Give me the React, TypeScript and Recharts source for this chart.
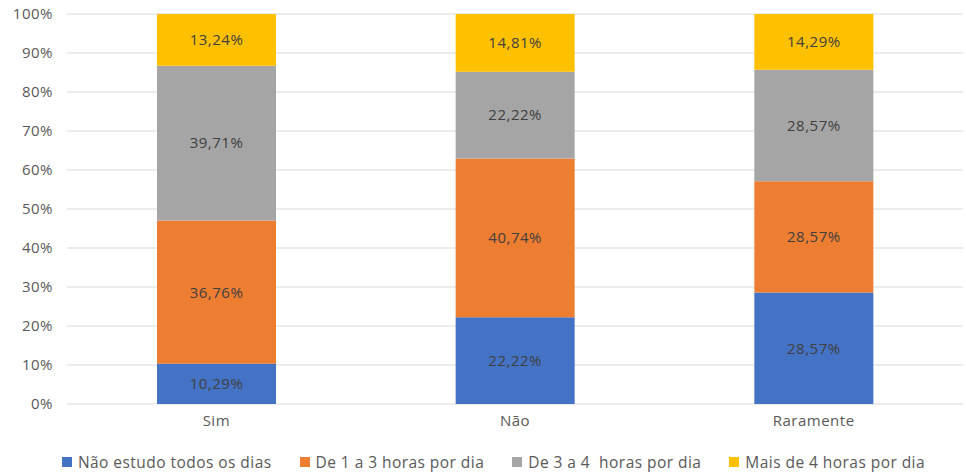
import { BarChart, Bar, XAxis, YAxis, CartesianGrid, Legend, LabelList } from 'recharts'

const categorias = ['Sim', 'Não', 'Raramente']
const naoEstudo = [10.29, 22.22, 28.57]
const de1a3 = [36.76, 40.74, 28.57]
const de3a4 = [39.71, 22.22, 28.57]
const mais4 = [13.24, 14.81, 14.29]
const ticksY = [0, 10, 20, 30, 40, 50, 60, 70, 80, 90, 100]

const series = [
  { key: 'naoEstudo', nome: 'Não estudo todos os dias', cor: '#4472C4' },
  { key: 'de1a3', nome: 'De 1 a 3 horas por dia', cor: '#ED7D31' },
  { key: 'de3a4', nome: 'De 3 a 4  horas por dia', cor: '#A5A5A5' },
  { key: 'mais4', nome: 'Mais de 4 horas por dia', cor: '#FFC000' },
]

const dados = categorias.map((cat, i) => ({
  cat,
  naoEstudo: naoEstudo[i],
  de1a3: de1a3[i],
  de3a4: de3a4[i],
  mais4: mais4[i],
}))

const fonte = '"Open Sans", sans-serif'
const texto = { fontSize: 15, fontFamily: fonte, letterSpacing: 0.5 }
const fmt = (v: any) => `${Number(v).toFixed(2).replace('.', ',')}%`

// legenda na ordem das séries (o Legend padrão ordena por nome)
function Legenda() {
  return (
    <div style={{ display: 'flex', justifyContent: 'center', gap: 28, paddingLeft: 24, fontSize: 15.5, letterSpacing: 0.45, color: '#595959', whiteSpace: 'pre' }}>
      {series.map((s) => (
        <div key={s.key} style={{ display: 'flex', alignItems: 'center' }}>
          <span style={{ width: 10, height: 10, background: s.cor, marginRight: 6, display: 'inline-block' }} />
          <span>{s.nome}</span>
        </div>
      ))}
    </div>
  )
}

export default function App() {
  return (
    <div style={{ position: 'absolute', left: 0, top: 0, background: '#fff', fontFamily: fonte }}>
      <BarChart
        width={966}
        height={476}
        data={dados}
        margin={{ top: 14, right: 3, left: 0, bottom: 20 }}
        barCategoryGap={90}
      >
        <CartesianGrid vertical={false} stroke="#D9D9D9" />
        <XAxis
          dataKey="cat"
          axisLine={false}
          tickLine={false}
          tick={{ fill: '#595959', ...texto }}
          tickMargin={5}
        />
        <YAxis
          type="number"
          domain={[0, 100]}
          ticks={ticksY}
          tickFormatter={(v) => `${v}%`}
          axisLine={false}
          tickLine={false}
          width={67}
          tickMargin={8}
          tick={{ fill: '#595959', ...texto }}
        />
        <Legend verticalAlign="bottom" content={<Legenda />} wrapperStyle={{ bottom: 3 }} />
        {series.map((s) => (
          <Bar key={s.key} dataKey={s.key} name={s.nome} stackId="a" fill={s.cor} isAnimationActive={false}>
            <LabelList
              dataKey={s.key}
              position="center"
              formatter={fmt}
              style={{ fill: '#404040', ...texto }}
            />
          </Bar>
        ))}
      </BarChart>
    </div>
  )
}
